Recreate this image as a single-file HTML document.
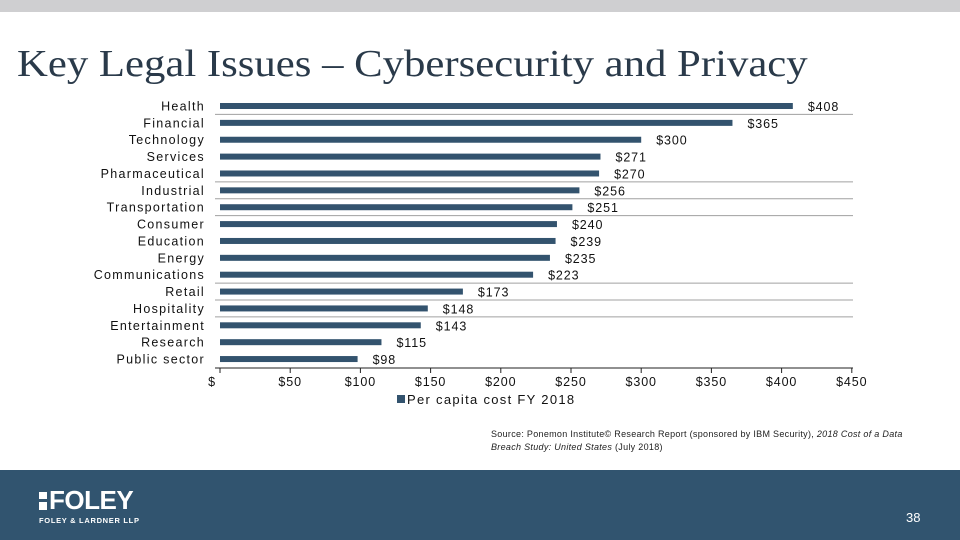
<!DOCTYPE html>
<html><head><meta charset="utf-8"><style>
body{margin:0;width:960px;height:540px;overflow:hidden;background:#fff;position:relative;font-family:"Liberation Sans",sans-serif}
.abs{position:absolute}
</style></head><body>
<div class="abs" style="left:0;top:0;width:960px;height:12px;background:#cfcfd1"></div>
<div class="abs" style="left:17px;top:42px;font-family:'Liberation Serif',serif;font-size:38px;color:#2a3a4a;white-space:nowrap;transform:scaleX(1.125);transform-origin:0 0">Key Legal Issues – Cybersecurity and Privacy</div>
<svg class="abs" style="left:0;top:0" width="960" height="470">
<g id="g"></g>
</svg>
<div class="abs" style="left:491px;top:428px;font-size:9px;line-height:13px;color:#222;width:460px;letter-spacing:0.3px">Source: Ponemon Institute© Research Report (sponsored by IBM Security), <i>2018 Cost of a Data<br>Breach Study: United States</i> (July 2018)</div>
<div class="abs" style="left:0;top:470px;width:960px;height:70px;background:#31546f">
<div class="abs" style="left:39px;top:15px;color:#fff;font-weight:bold;font-size:26px;letter-spacing:-0.5px;white-space:nowrap"><span style="display:inline-block;width:8px;height:18px;margin-right:2px;vertical-align:-1px;background:linear-gradient(#fff 0 7px,transparent 7px 10px,#fff 10px)"></span>FOLEY</div>
<div class="abs" style="left:39px;top:46px;color:#fff;font-weight:bold;font-size:7.5px;letter-spacing:0.7px;white-space:nowrap">FOLEY &amp; LARDNER LLP</div>
<div class="abs" style="left:906px;top:40px;color:#fff;font-size:13px">38</div>
</div>
<script>
const categories=["Health","Financial","Technology","Services","Pharmaceutical","Industrial","Transportation","Consumer","Education","Energy","Communications","Retail","Hospitality","Entertainment","Research","Public sector"];
const values=[408,365,300,271,270,256,251,240,239,235,223,173,148,143,115,98];
const ticks=[0,50,100,150,200,250,300,350,400,450];
const tickLabels=["$","$50","$100","$150","$200","$250","$300","$350","$400","$450"];
const gridAfter=[0,4,5,6,10,11,12];
const NS="http://www.w3.org/2000/svg";
const g=document.getElementById('g');
const x0=220,k=1.404,y0=106,step=16.87;
const X=v=>x0+v*k, Y=i=>y0+i*step;
function el(t,a){const e=document.createElementNS(NS,t);for(const n in a)e.setAttribute(n,a[n]);g.appendChild(e);return e;}
gridAfter.forEach(i=>{const l=el('line',{x1:215,x2:853,y1:Y(i+0.5),y2:Y(i+0.5),stroke:'#a0a0a0','stroke-width':1});

});
categories.forEach((c,i)=>{
const t=el('text',{x:205,y:Y(i)+4.5,'text-anchor':'end','font-size':12.5,'letter-spacing':1.3,fill:'#111','font-family':'Liberation Sans,sans-serif'});t.textContent=c;


const b=el('rect',{x:X(0),y:Y(i)-3,width:values[i]*k,height:6,fill:'#33536e'});


const v=el('text',{x:X(values[i])+15,y:Y(i)+5,'font-size':12.5,'letter-spacing':0.9,fill:'#111','font-family':'Liberation Sans,sans-serif'});v.textContent='$'+values[i];


});
const ax=el('line',{x1:215,x2:853,y1:368,y2:368,stroke:'#222','stroke-width':1});


ticks.forEach((v,i)=>{
const tk=el('line',{x1:X(v),x2:X(v),y1:368,y2:373,stroke:'#222'});


const t=el('text',{x:X(v)-(i==0?8:0),y:386,'text-anchor':'middle','font-size':12.5,'letter-spacing':0.9,fill:'#111','font-family':'Liberation Sans,sans-serif'});t.textContent=tickLabels[i];


});
const ls=el('rect',{x:397,y:395,width:8,height:8,fill:'#33536e'});


const lt=el('text',{x:407,y:404,'font-size':13,'letter-spacing':1.3,fill:'#111','font-family':'Liberation Sans,sans-serif'});lt.textContent='Per capita cost FY 2018';


</script>
</body></html>
